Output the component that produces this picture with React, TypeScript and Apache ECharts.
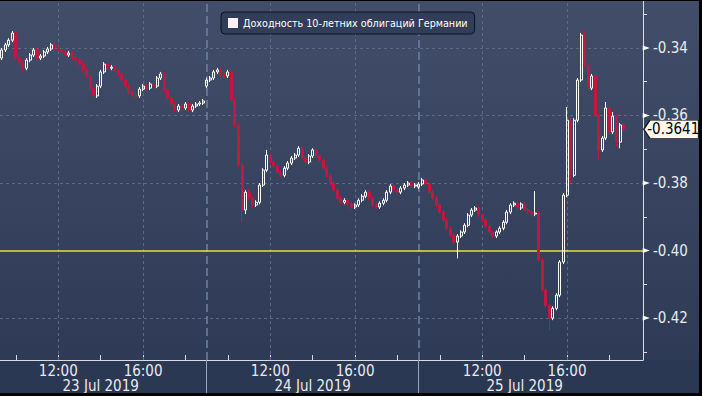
import React, { useEffect, useRef } from 'react';
import * as echarts from 'echarts';

const SERIES_NAME = 'Доходность 10-летних облигаций Германии';
const DAYS = ['23 Jul 2019', '24 Jul 2019', '25 Jul 2019'];
const SESSION_START_MIN = [560, 540, 540]; // 09:20, 09:00, 09:00
const SESSION_END_MIN = 1130; // 18:50
const PAD_TIMES = ['19:00', '19:10', '19:20', '19:30'];
const TIME_LABELS = ['12:00', '16:00'];
const TICK_TIMES = ['10:00', '12:00', '14:00', '16:00', '18:00'];
const DATE_LABEL_TIME = '14:00';
const SESSION_OPEN = '09:00';
const Y_LABELS = [-0.42, -0.4, -0.38, -0.36, -0.34];
const Y_MINOR = [-0.43, -0.42, -0.41, -0.4, -0.39, -0.38, -0.37, -0.36, -0.35, -0.34, -0.33];
const GRID_Y = [-0.42, -0.38, -0.36, -0.34];
const REF_LEVEL = -0.4;
const Y_MIN = -0.4324;
const Y_MAX = -0.3261;

// [open, close, low, high] — 10-minute bars
const OHLC: number[][] = [
  // 23 Jul
  [-0.3430, -0.3406, -0.3436, -0.3400],
  [-0.3406, -0.3391, -0.3412, -0.3385],
  [-0.3391, -0.3377, -0.3397, -0.3371],
  [-0.3377, -0.3356, -0.3383, -0.3350],
  [-0.3356, -0.3430, -0.3436, -0.3350],
  [-0.3430, -0.3442, -0.3448, -0.3424],
  [-0.3442, -0.3460, -0.3468, -0.3436],
  [-0.3460, -0.3436, -0.3466, -0.3430],
  [-0.3436, -0.3421, -0.3442, -0.3415],
  [-0.3421, -0.3406, -0.3427, -0.3400],
  [-0.3406, -0.3430, -0.3436, -0.3400],
  [-0.3430, -0.3424, -0.3436, -0.3418],
  [-0.3424, -0.3412, -0.3430, -0.3406],
  [-0.3412, -0.3403, -0.3418, -0.3397],
  [-0.3403, -0.3391, -0.3409, -0.3385],
  [-0.3391, -0.3400, -0.3406, -0.3385],
  [-0.3400, -0.3406, -0.3412, -0.3394],
  [-0.3406, -0.3412, -0.3418, -0.3400],
  [-0.3412, -0.3421, -0.3427, -0.3406],
  [-0.3421, -0.3415, -0.3427, -0.3409],
  [-0.3415, -0.3430, -0.3436, -0.3409],
  [-0.3430, -0.3436, -0.3442, -0.3424],
  [-0.3436, -0.3448, -0.3454, -0.3430],
  [-0.3448, -0.3465, -0.3471, -0.3442],
  [-0.3465, -0.3483, -0.3489, -0.3460],
  [-0.3483, -0.3519, -0.3525, -0.3477],
  [-0.3519, -0.3542, -0.3551, -0.3513],
  [-0.3542, -0.3513, -0.3548, -0.3507],
  [-0.3513, -0.3471, -0.3519, -0.3465],
  [-0.3471, -0.3448, -0.3477, -0.3442],
  [-0.3448, -0.3460, -0.3466, -0.3442],
  [-0.3460, -0.3457, -0.3466, -0.3451],
  [-0.3457, -0.3465, -0.3471, -0.3451],
  [-0.3465, -0.3477, -0.3483, -0.3460],
  [-0.3477, -0.3495, -0.3501, -0.3471],
  [-0.3495, -0.3513, -0.3519, -0.3489],
  [-0.3513, -0.3531, -0.3537, -0.3507],
  [-0.3531, -0.3540, -0.3546, -0.3525],
  [-0.3540, -0.3542, -0.3551, -0.3534],
  [-0.3542, -0.3522, -0.3548, -0.3516],
  [-0.3522, -0.3513, -0.3528, -0.3507],
  [-0.3513, -0.3519, -0.3525, -0.3507],
  [-0.3519, -0.3507, -0.3525, -0.3501],
  [-0.3507, -0.3513, -0.3519, -0.3501],
  [-0.3513, -0.3489, -0.3519, -0.3483],
  [-0.3489, -0.3477, -0.3495, -0.3471],
  [-0.3477, -0.3525, -0.3531, -0.3471],
  [-0.3525, -0.3548, -0.3554, -0.3519],
  [-0.3548, -0.3566, -0.3572, -0.3542],
  [-0.3566, -0.3584, -0.3590, -0.3560],
  [-0.3584, -0.3572, -0.3590, -0.3566],
  [-0.3572, -0.3578, -0.3584, -0.3566],
  [-0.3578, -0.3566, -0.3584, -0.3560],
  [-0.3566, -0.3584, -0.3590, -0.3560],
  [-0.3584, -0.3572, -0.3590, -0.3566],
  [-0.3572, -0.3566, -0.3578, -0.3560],
  [-0.3566, -0.3563, -0.3572, -0.3557],
  [-0.3563, -0.3557, -0.3569, -0.3551],
  // 24 Jul
  [-0.3513, -0.3495, -0.3519, -0.3489],
  [-0.3495, -0.3489, -0.3501, -0.3483],
  [-0.3489, -0.3471, -0.3495, -0.3465],
  [-0.3471, -0.3465, -0.3477, -0.3459],
  [-0.3465, -0.3480, -0.3486, -0.3459],
  [-0.3480, -0.3483, -0.3489, -0.3474],
  [-0.3483, -0.3471, -0.3489, -0.3465],
  [-0.3471, -0.3554, -0.3560, -0.3465],
  [-0.3554, -0.3628, -0.3634, -0.3548],
  [-0.3628, -0.3747, -0.3753, -0.3622],
  [-0.3747, -0.3880, -0.3916, -0.3741],
  [-0.3880, -0.3827, -0.3892, -0.3821],
  [-0.3827, -0.3845, -0.3851, -0.3818],
  [-0.3845, -0.3865, -0.3871, -0.3839],
  [-0.3865, -0.3857, -0.3871, -0.3851],
  [-0.3857, -0.3806, -0.3863, -0.3800],
  [-0.3806, -0.3762, -0.3812, -0.3756],
  [-0.3762, -0.3717, -0.3768, -0.3702],
  [-0.3717, -0.3738, -0.3744, -0.3711],
  [-0.3738, -0.3750, -0.3756, -0.3732],
  [-0.3750, -0.3768, -0.3774, -0.3744],
  [-0.3768, -0.3777, -0.3783, -0.3762],
  [-0.3777, -0.3756, -0.3783, -0.3750],
  [-0.3756, -0.3741, -0.3762, -0.3735],
  [-0.3741, -0.3726, -0.3747, -0.3720],
  [-0.3726, -0.3717, -0.3732, -0.3711],
  [-0.3717, -0.3697, -0.3723, -0.3691],
  [-0.3697, -0.3726, -0.3732, -0.3691],
  [-0.3726, -0.3738, -0.3744, -0.3720],
  [-0.3738, -0.3720, -0.3744, -0.3714],
  [-0.3720, -0.3702, -0.3726, -0.3697],
  [-0.3702, -0.3720, -0.3726, -0.3697],
  [-0.3720, -0.3732, -0.3738, -0.3714],
  [-0.3732, -0.3756, -0.3762, -0.3726],
  [-0.3756, -0.3779, -0.3785, -0.3750],
  [-0.3779, -0.3800, -0.3806, -0.3774],
  [-0.3800, -0.3821, -0.3827, -0.3794],
  [-0.3821, -0.3845, -0.3851, -0.3815],
  [-0.3845, -0.3857, -0.3863, -0.3839],
  [-0.3857, -0.3851, -0.3863, -0.3845],
  [-0.3851, -0.3862, -0.3868, -0.3845],
  [-0.3862, -0.3871, -0.3877, -0.3857],
  [-0.3871, -0.3865, -0.3877, -0.3860],
  [-0.3865, -0.3851, -0.3871, -0.3845],
  [-0.3851, -0.3839, -0.3857, -0.3833],
  [-0.3839, -0.3827, -0.3845, -0.3821],
  [-0.3827, -0.3845, -0.3851, -0.3821],
  [-0.3845, -0.3865, -0.3871, -0.3839],
  [-0.3865, -0.3871, -0.3877, -0.3860],
  [-0.3871, -0.3860, -0.3877, -0.3854],
  [-0.3860, -0.3851, -0.3866, -0.3845],
  [-0.3851, -0.3827, -0.3857, -0.3821],
  [-0.3827, -0.3809, -0.3833, -0.3803],
  [-0.3809, -0.3821, -0.3827, -0.3803],
  [-0.3821, -0.3827, -0.3833, -0.3815],
  [-0.3827, -0.3815, -0.3833, -0.3809],
  [-0.3815, -0.3806, -0.3821, -0.3800],
  [-0.3806, -0.3800, -0.3812, -0.3794],
  [-0.3800, -0.3809, -0.3815, -0.3794],
  [-0.3809, -0.3806, -0.3815, -0.3800],
  // 25 Jul
  [-0.3812, -0.3803, -0.3818, -0.3797],
  [-0.3803, -0.3791, -0.3809, -0.3785],
  [-0.3791, -0.3803, -0.3809, -0.3785],
  [-0.3803, -0.3827, -0.3833, -0.3797],
  [-0.3827, -0.3845, -0.3851, -0.3821],
  [-0.3845, -0.3865, -0.3871, -0.3839],
  [-0.3865, -0.3886, -0.3892, -0.3860],
  [-0.3886, -0.3910, -0.3916, -0.3880],
  [-0.3910, -0.3934, -0.3940, -0.3904],
  [-0.3934, -0.3954, -0.3960, -0.3928],
  [-0.3954, -0.3975, -0.3981, -0.3948],
  [-0.3975, -0.3957, -0.4023, -0.3951],
  [-0.3957, -0.3945, -0.3963, -0.3940],
  [-0.3945, -0.3925, -0.3951, -0.3919],
  [-0.3925, -0.3895, -0.3931, -0.3889],
  [-0.3895, -0.3880, -0.3901, -0.3874],
  [-0.3880, -0.3874, -0.3886, -0.3868],
  [-0.3874, -0.3895, -0.3901, -0.3868],
  [-0.3895, -0.3910, -0.3916, -0.3889],
  [-0.3910, -0.3928, -0.3934, -0.3904],
  [-0.3928, -0.3945, -0.3951, -0.3922],
  [-0.3945, -0.3957, -0.3963, -0.3940],
  [-0.3957, -0.3945, -0.3963, -0.3940],
  [-0.3945, -0.3934, -0.3951, -0.3928],
  [-0.3934, -0.3916, -0.3940, -0.3910],
  [-0.3916, -0.3886, -0.3922, -0.3880],
  [-0.3886, -0.3865, -0.3892, -0.3860],
  [-0.3865, -0.3860, -0.3871, -0.3854],
  [-0.3860, -0.3874, -0.3880, -0.3854],
  [-0.3874, -0.3862, -0.3880, -0.3857],
  [-0.3862, -0.3880, -0.3886, -0.3857],
  [-0.3880, -0.3886, -0.3892, -0.3874],
  [-0.3886, -0.3892, -0.3898, -0.3880],
  [-0.3892, -0.3889, -0.3898, -0.3824],
  [-0.3889, -0.4028, -0.4034, -0.3883],
  [-0.4028, -0.4117, -0.4123, -0.4022],
  [-0.4117, -0.4162, -0.4168, -0.4111],
  [-0.4162, -0.4200, -0.4236, -0.4156],
  [-0.4200, -0.4171, -0.4206, -0.4165],
  [-0.4171, -0.4132, -0.4177, -0.4126],
  [-0.4132, -0.4034, -0.4138, -0.4028],
  [-0.4034, -0.3836, -0.4040, -0.3830],
  [-0.3836, -0.3614, -0.3842, -0.3575],
  [-0.3614, -0.3777, -0.3800, -0.3608],
  [-0.3777, -0.3614, -0.3783, -0.3608],
  [-0.3614, -0.3495, -0.3620, -0.3489],
  [-0.3495, -0.3362, -0.3501, -0.3356],
  [-0.3362, -0.3451, -0.3457, -0.3347],
  [-0.3451, -0.3519, -0.3525, -0.3445],
  [-0.3519, -0.3483, -0.3525, -0.3477],
  [-0.3483, -0.3599, -0.3605, -0.3477],
  [-0.3599, -0.3702, -0.3732, -0.3593],
  [-0.3702, -0.3667, -0.3708, -0.3661],
  [-0.3667, -0.3578, -0.3673, -0.3560],
  [-0.3578, -0.3649, -0.3655, -0.3572],
  [-0.3649, -0.3602, -0.3655, -0.3590],
  [-0.3602, -0.3679, -0.3694, -0.3596],
  [-0.3679, -0.3628, -0.3697, -0.3622],
  [-0.3628, -0.3641, -0.3647, -0.3622],
];

const pad2 = (n: number) => (n < 10 ? '0' + n : '' + n);
const CATS: string[] = [];
DAYS.forEach((d, i) => {
  for (let m = SESSION_START_MIN[i]; m <= SESSION_END_MIN; m += 10) {
    CATS.push(d + '|' + pad2(Math.floor(m / 60)) + ':' + pad2(m % 60));
  }
});
PAD_TIMES.forEach((t) => CATS.push(DAYS[DAYS.length - 1] + '|' + t));

const timeOf = (c: string) => c.split('|')[1];
const dayOf = (c: string) => c.split('|')[0];
const LAST_CAT = CATS[CATS.length - 1];
const LAST_VALUE = OHLC[OHLC.length - 1][1];

const FONT = "'Liberation Sans Narrow', 'DejaVu Sans Condensed', 'Liberation Sans', sans-serif";
const AXIS_COLOR = '#d8dce4';
const LABEL_COLOR = '#e9ebf0';
const GRID_COLOR = '#5b6a87';

export default function App() {
  const ref = useRef<HTMLDivElement>(null);

  useEffect(() => {
    if (!ref.current) return;
    const chart = echarts.init(ref.current, null, { renderer: 'svg' });

    const gridLine = { color: GRID_COLOR, type: [3, 3] as number[], width: 1 };
    const markLines: any[] = [];
    GRID_Y.forEach((v) => markLines.push({ yAxis: v, lineStyle: gridLine }));
    CATS.forEach((c) => {
      if (TIME_LABELS.includes(timeOf(c))) markLines.push({ xAxis: c, lineStyle: gridLine });
      if (timeOf(c) === SESSION_OPEN && dayOf(c) !== DAYS[0])
        markLines.push({ xAxis: c, lineStyle: { color: '#6f82a0', type: [8, 4], width: 1.5 } });
    });
    markLines.push({ yAxis: REF_LEVEL, lineStyle: { color: '#e8e23c', type: 'solid', width: 1.5 } });

    const markPoints: any[] = Y_LABELS.map((v) => ({
      coord: [LAST_CAT, v],
      symbol: 'triangle',
      symbolSize: [5, 7],
      symbolRotate: -90,
      symbolOffset: [5, 0],
      itemStyle: { color: '#ffffff' },
      label: { show: false },
    }));
    markPoints.push({
      coord: [LAST_CAT, LAST_VALUE],
      symbol: 'path://M0,9 L6,0 L55,0 L55,18 L6,18 Z',
      symbolSize: [55, 18],
      symbolKeepAspect: false,
      symbolOffset: [30, 0],
      itemStyle: { color: '#fff8ee', borderColor: '#1e1e1e', borderWidth: 1 },
      label: {
        show: true,
        position: 'inside',
        offset: [2, 0],
        formatter: LAST_VALUE.toFixed(4),
        color: '#000000',
        fontSize: 15,
        fontFamily: FONT,
      },
    });

    chart.setOption({
      animation: false,
      backgroundColor: 'transparent',
      grid: { left: 0, right: 56, top: 0, bottom: 33 },
      legend: {
        data: [{ name: SERIES_NAME, icon: 'rect', itemStyle: { color: '#fff1f1', borderWidth: 0 } }],
        left: 221,
        top: 11,
        padding: [6, 7, 6, 7],
        itemWidth: 10,
        itemHeight: 10,
        itemGap: 5,
        backgroundColor: '#313d59',
        borderColor: '#0d1322',
        borderWidth: 1,
        borderRadius: 4,
        selectedMode: false,
        textStyle: { color: '#ffffff', fontSize: 9.6, fontFamily: 'DejaVu Sans' },
      },
      xAxis: [
        {
          type: 'category',
          data: CATS,
          boundaryGap: true,
          axisLine: { lineStyle: { color: AXIS_COLOR, width: 1 } },
          axisTick: {
            show: true,
            inside: true,
            length: 5,
            alignWithLabel: true,
            interval: (_i: number, v: string) => TICK_TIMES.includes(timeOf(v)),
            lineStyle: { color: AXIS_COLOR },
          },
          axisLabel: {
            interval: (_i: number, v: string) => TIME_LABELS.includes(timeOf(v)),
            formatter: (v: string) => timeOf(v),
            color: LABEL_COLOR,
            fontSize: 15,
            fontFamily: FONT,
            margin: 3,
          },
          splitLine: { show: false },
        },
        {
          type: 'category',
          data: CATS,
          position: 'bottom',
          offset: 16,
          axisLine: { show: false },
          axisTick: { show: false },
          axisLabel: {
            interval: (_i: number, v: string) => timeOf(v) === DATE_LABEL_TIME,
            formatter: (v: string) => dayOf(v),
            color: LABEL_COLOR,
            fontSize: 15,
            fontFamily: FONT,
            margin: 2,
          },
          splitLine: { show: false },
        },
        {
          type: 'category',
          data: CATS,
          position: 'bottom',
          axisLine: { show: false },
          axisLabel: { show: false },
          axisTick: {
            show: true,
            length: 33,
            alignWithLabel: true,
            interval: (_i: number, v: string) => timeOf(v) === SESSION_OPEN && dayOf(v) !== DAYS[0],
            lineStyle: { color: '#9aa6bb', width: 1 },
          },
          splitLine: { show: false },
        },
      ],
      yAxis: {
        type: 'value',
        position: 'right',
        min: Y_MIN,
        max: Y_MAX,
        axisLine: { show: true, lineStyle: { color: AXIS_COLOR, width: 1 } },
        axisTick: { show: true, customValues: Y_MINOR, length: 4, lineStyle: { color: AXIS_COLOR } },
        axisLabel: {
          customValues: Y_LABELS,
          formatter: (v: number) => v.toFixed(2),
          color: LABEL_COLOR,
          fontSize: 15,
          fontFamily: FONT,
          margin: 10,
        },
        splitLine: { show: false },
      },
      series: [
        {
          name: SERIES_NAME,
          type: 'candlestick',
          data: OHLC,
          barWidth: 2.5,
          itemStyle: {
            color: 'rgba(0,0,0,0)',
            borderColor: '#ffffff',
            color0: '#c3173f',
            borderColor0: '#c3173f',
            borderWidth: 1,
          },
          emphasis: { disabled: true },
          markLine: { silent: true, z: 1, symbol: ['none', 'none'], label: { show: false }, data: markLines },
          markPoint: { silent: true, label: { show: false }, data: markPoints },
        },
      ],
    });

    return () => chart.dispose();
  }, []);

  return (
    <div style={{ position: 'fixed', left: 0, top: 0, width: 702, height: 396, background: '#000', overflow: 'hidden' }}>
      <div
        ref={ref}
        style={{
          position: 'absolute',
          left: 0,
          top: 1,
          width: 699,
          height: 392,
          background: 'linear-gradient(to bottom, #414d69 0px, #2e3a56 359px, #2b3853 359px, #2b3853 392px)',
        }}
      />
    </div>
  );
}
